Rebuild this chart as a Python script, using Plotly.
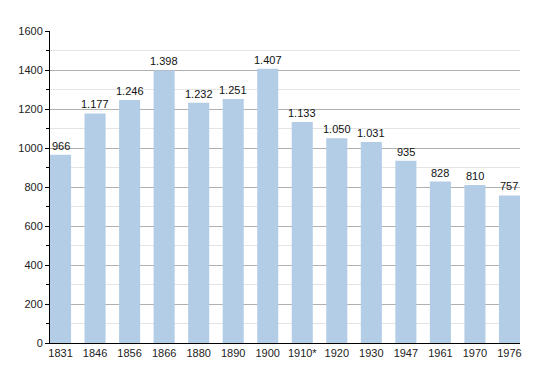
import plotly.graph_objects as go

years = ["1831", "1846", "1856", "1866", "1880", "1890", "1900", "1910*", "1920",
         "1930", "1947", "1961", "1970", "1976"]
population = [966, 1177, 1246, 1398, 1232, 1251, 1407, 1133, 1050, 1031, 935, 828, 810, 757]
y_ticks = [0, 200, 400, 600, 800, 1000, 1200, 1400, 1600]

FONT = "Liberation Sans, Arial, sans-serif"

fig = go.Figure()
fig.add_trace(go.Bar(
    x=list(range(len(years))),
    y=population,
    width=0.61,
    marker=dict(color="#b3cde6", line=dict(width=0)),
    hoverinfo="skip",
))

for i, v in enumerate(population):
    fig.add_annotation(
        x=i, y=v, text=f"{v:,}".replace(",", "."),
        showarrow=False, yanchor="bottom", yshift=1,
        font=dict(family=FONT, size=11, color="#111"),
    )

# page body has an 8px margin; size the figure so the plot area lands where the reference has it
fig.update_layout(
    width=542, height=365,
    margin=dict(l=42, r=30, t=23, b=30),
    paper_bgcolor="white", plot_bgcolor="white",
    showlegend=False,
    font=dict(family=FONT, size=11, color="#222"),
    xaxis=dict(
        range=[-0.305, len(years) - 1 + 0.305],
        tickvals=list(range(len(years))),
        ticktext=years,
        showgrid=False,
        showline=True, linecolor="black", linewidth=1,
        ticks="", zeroline=False,
        automargin=False,
        tickfont=dict(size=11),
    ),
    yaxis=dict(
        range=[0, 1600],
        tickvals=y_ticks,
        showgrid=True, gridcolor="#b0b0b0", gridwidth=1,
        showline=True, linecolor="black", linewidth=1,
        ticks="outside", ticklen=4, tickcolor="black",
        zeroline=False,
        automargin=False,
        minor=dict(dtick=100, showgrid=True, gridcolor="#e4e4e4",
                   ticks="outside", ticklen=3, tickcolor="black"),
        tickfont=dict(size=11),
    ),
)

fig.write_html("out.html")
